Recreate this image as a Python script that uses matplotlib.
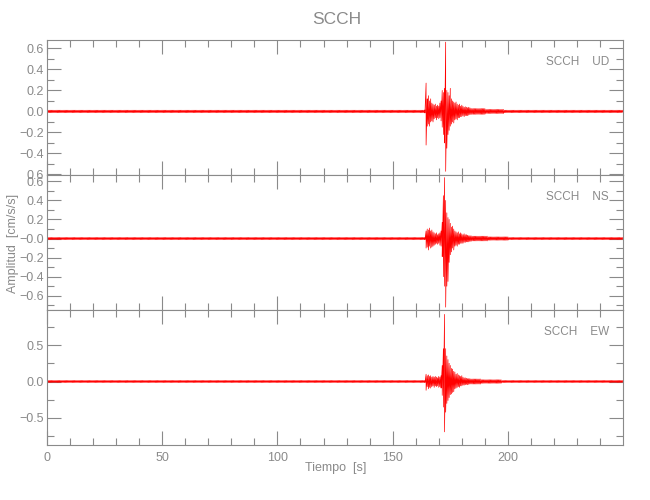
import numpy as np
import matplotlib
matplotlib.use('Agg')
import matplotlib.pyplot as plt
from matplotlib.ticker import MultipleLocator, FixedLocator

plt.rcParams['font.family'] = ['Liberation Sans', 'DejaVu Sans']

# station / components
station = 'SCCH'
components = ['UD', 'NS', 'EW']

# trace envelope (cm/s/s)
# quiet noise level, then max/min every 0.5 s over the event window
noise = [0.012, 0.012, 0.015]
t_event = np.arange(164.0, 184.01, 0.5)

ud_up = [0.015, 0.27, 0.12, 0.15, 0.10, 0.12, 0.08, 0.07, 0.06, 0.07, 0.05,
         0.06, 0.05, 0.08, 0.10, 0.20, 0.18, 0.22, 0.66, 0.20, 0.18, 0.15,
         0.22, 0.12, 0.10, 0.09, 0.08, 0.09, 0.07, 0.06, 0.07, 0.05, 0.06,
         0.05, 0.04, 0.045, 0.04, 0.035, 0.04, 0.035, 0.03]
ud_lo = [-0.015, -0.32, -0.14, -0.12, -0.14, -0.10, -0.09, -0.10, -0.07,
         -0.06, -0.08, -0.06, -0.07, -0.06, -0.09, -0.15, -0.22, -0.30, -0.57,
         -0.35, -0.22, -0.18, -0.14, -0.12, -0.10, -0.11, -0.08, -0.07, -0.08,
         -0.06, -0.06, -0.05, -0.05, -0.04, -0.05, -0.04, -0.04, -0.04, -0.035,
         -0.03, -0.03]

ns_up = [0.012, 0.08, 0.10, 0.09, 0.11, 0.08, 0.09, 0.07, 0.06, 0.05, 0.06,
         0.04, 0.05, 0.06, 0.08, 0.17, 0.45, 0.64, 0.40, 0.27, 0.22, 0.20,
         0.16, 0.12, 0.13, 0.10, 0.08, 0.07, 0.06, 0.07, 0.05, 0.06, 0.05,
         0.04, 0.05, 0.04, 0.04, 0.035, 0.03, 0.03, 0.03]
ns_lo = [-0.012, -0.10, -0.09, -0.12, -0.08, -0.10, -0.09, -0.08, -0.07,
         -0.06, -0.05, -0.06, -0.05, -0.07, -0.08, -0.19, -0.40, -0.50, -0.72,
         -0.50, -0.45, -0.25, -0.17, -0.14, -0.10, -0.12, -0.08, -0.07, -0.08,
         -0.06, -0.06, -0.05, -0.05, -0.05, -0.04, -0.04, -0.035, -0.035,
         -0.035, -0.03, -0.03]

ew_up = [0.015, 0.10, 0.08, 0.09, 0.07, 0.08, 0.06, 0.07, 0.06, 0.07, 0.06,
         0.05, 0.07, 0.06, 0.08, 0.22, 0.45, 0.92, 0.45, 0.35, 0.30, 0.25,
         0.22, 0.18, 0.17, 0.14, 0.13, 0.10, 0.11, 0.09, 0.08, 0.07, 0.08,
         0.06, 0.05, 0.05, 0.045, 0.04, 0.04, 0.04, 0.035]
ew_lo = [-0.015, -0.12, -0.07, -0.10, -0.08, -0.09, -0.07, -0.06, -0.08,
         -0.06, -0.07, -0.06, -0.08, -0.07, -0.09, -0.19, -0.35, -0.69, -0.42,
         -0.30, -0.26, -0.22, -0.18, -0.17, -0.15, -0.14, -0.10, -0.09, -0.08,
         -0.07, -0.08, -0.06, -0.06, -0.05, -0.05, -0.045, -0.04, -0.045,
         -0.04, -0.035, -0.035]

# coda after the window: (end time, level)
coda = [[(190, 0.028), (198, 0.02)],
        [(191, 0.025), (200, 0.018)],
        [(188, 0.035), (197, 0.025)]]

uppers = [ud_up, ns_up, ew_up]
lowers = [ud_lo, ns_lo, ew_lo]

ylims = [(-0.605, 0.68), (-0.75, 0.667), (-0.87, 0.98)]
yticks = [[-0.6, -0.4, -0.2, 0.0, 0.2, 0.4, 0.6],
          [-0.6, -0.4, -0.2, 0.0, 0.2, 0.4, 0.6],
          [-0.5, 0.0, 0.5]]
ylabels = [['0.6', '\u22120.4', '\u22120.2', '0.0', '0.2', '0.4', '0.6'],
           ['\u22120.6', '\u22120.4', '\u22120.2', '\u22120.0', '0.2', '0.4', '0.6'],
           ['\u22120.5', '0.0', '0.5']]
yminor = [0.1, 0.1, 0.25]

gray = '#8a8a8a'
t = np.arange(0, 250.01, 0.5)

fig = plt.figure(figsize=(6.5, 5), dpi=100)
left, width, h = 0.0723, 0.886, 0.27
bottoms = [0.65, 0.38, 0.11]

for k in range(3):
    ax = fig.add_axes([left, bottoms[k], width, h])
    up = np.full(t.shape, noise[k])
    lo = -up.copy()
    prev = t_event[-1]
    for end, lev in coda[k]:
        m = (t > prev) & (t <= end)
        up[m] = lev
        lo[m] = -lev
        prev = end
    idx = np.searchsorted(t, t_event)
    up[idx] = uppers[k]
    lo[idx] = lowers[k]
    x = np.repeat(t, 2)
    y = np.column_stack([up, lo]).ravel()
    ax.plot(x, y, color='#ff0000', lw=0.5)

    ax.set_xlim(0, 249.9)
    ax.set_ylim(*ylims[k])
    ax.xaxis.set_major_locator(MultipleLocator(50))
    ax.xaxis.set_minor_locator(MultipleLocator(10))
    ax.yaxis.set_major_locator(FixedLocator(yticks[k]))
    ax.set_yticklabels(ylabels[k])
    ax.yaxis.set_minor_locator(MultipleLocator(yminor[k]))
    ax.tick_params(which='both', direction='in', top=True, right=True,
                   color=gray, labelcolor=gray, labelsize=9, width=0.8)
    ax.tick_params(which='major', length=10)
    ax.tick_params(which='minor', length=5)
    ax.tick_params(axis='x', pad=5)
    ax.tick_params(axis='y', pad=2)
    for s in ax.spines.values():
        s.set_color(gray)
        s.set_linewidth(0.8)
    if k < 2:
        ax.set_xticklabels([])
    ax.text(0.976, 0.835, station + '    ' + components[k], transform=ax.transAxes,
            ha='right', va='center', color=gray, fontsize=8.5)

fig.text(0.518, 0.962, station, ha='center', va='center', color=gray, fontsize=12.5)
fig.text(0.517, 0.064, 'Tiempo  [s]', ha='center', va='center', color=gray, fontsize=9)
fig.text(0.02, 0.514, 'Amplitud  [cm/s/s]', ha='center', va='center', rotation=90,
         color=gray, fontsize=9)

fig.savefig('out.png', dpi=100, facecolor='white')
